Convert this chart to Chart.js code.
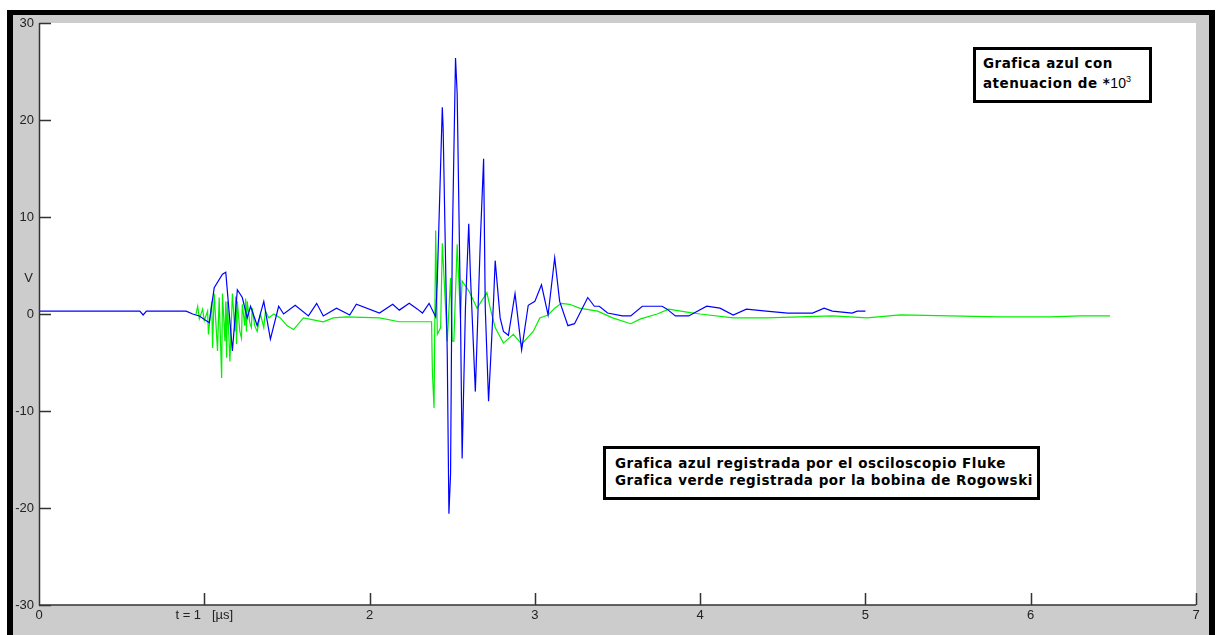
<!DOCTYPE html>
<html>
<head>
<meta charset="utf-8">
<script src="https://cdn.jsdelivr.net/npm/chart.js@4"></script>
<style>
  body { margin: 0; background: #fff; }
  #wrap { position: relative; width: 1218px; height: 635px; overflow: hidden; }
  #chart { position: absolute; left: 0; top: 0; }
  .note {
    position: absolute; box-sizing: border-box; background: #fff; white-space: nowrap;
    border: 3px solid #000; font: bold 13.5px "DejaVu Sans", Verdana, sans-serif; color: #000;
    letter-spacing: 0.5px;
  }
  .note sup { font-size: 9px; vertical-align: 6px; line-height: 0; }
</style>
</head>
<body>
<div id="wrap">
  <canvas id="chart" width="1218" height="635"></canvas>
  <div class="note" style="left:973px;top:47px;width:179px;height:56px;padding:3px 0 0 7px;line-height:20px;">
    Grafica azul con<br>atenuacion de *<span style="font:14px 'Liberation Sans', Arial, sans-serif;letter-spacing:0">10<sup>3</sup></span>
  </div>
  <div class="note" style="left:603px;top:446px;width:437px;height:54px;padding:6px 0 0 9px;line-height:17px;">
    Grafica azul registrada por el osciloscopio Fluke<br>Grafica verde registrada por la bobina de Rogowski
  </div>
</div>
<script>
// eje x en microsegundos, eje y en voltios
const xTickLabels = ['0', 't = 1   [µs]', '2', '3', '4', '5', '6', '7'];
const yTickLabels = ['-30', '-20', '-10', '0', '10', '20', '30'];

// osciloscopio Fluke (azul, atenuado *10^3)
const blueT = [0, 0.61, 0.63, 0.65, 0.89, 0.93, 0.97, 1.03, 1.06, 1.11, 1.13, 1.17, 1.20, 1.23, 1.26, 1.28,
  1.31, 1.32, 1.36, 1.40, 1.45, 1.48, 1.55, 1.63, 1.68, 1.72, 1.80, 1.88, 1.92, 2.06, 2.14, 2.18, 2.24,
  2.29, 2.32, 2.36, 2.40, 2.41, 2.44, 2.445, 2.47, 2.48, 2.49, 2.50, 2.52, 2.53, 2.55, 2.56, 2.58, 2.60,
  2.61, 2.64, 2.67, 2.69, 2.70, 2.72, 2.75, 2.76, 2.79, 2.81, 2.84, 2.88, 2.92, 2.96, 3.00, 3.04, 3.08,
  3.12, 3.15, 3.20, 3.24, 3.32, 3.36, 3.39, 3.44, 3.53, 3.58, 3.65, 3.77, 3.80, 3.85, 3.93, 4.04, 4.12,
  4.20, 4.28, 4.40, 4.53, 4.68, 4.75, 4.80, 4.92, 4.95, 5.00];
const blueV = [0.3, 0.3, -0.1, 0.3, 0.3, 0.0, -0.2, -0.9, 2.7, 4.1, 4.3, -3.8, 2.5, 1.7, -0.4, 0.8,
  -0.7, -1.2, 1.3, -2.6, 0.8, 0, 0.9, -0.2, 1.1, -0.2, 0.6, -0.1, 1.0, 0.1, 1.0, 0.4, 1.1,
  0.5, 0.1, 1.1, -0.3, 3.6, 21.3, 19.2, -4.1, -20.6, -16.5, 6.8, 26.4, 22.7, 0, -14.9, 0.6, 9.3,
  4.1, -8.0, 7.5, 16.0, 0.6, -9.0, 1.3, 5.5, -0.4, -1.8, -2.2, 2.1, -3.7, 0.9, 1.3, 3.0, -0.1,
  5.8, 1.3, -1.2, -1.0, 1.7, 0.8, 0.8, 0.1, -0.2, -0.2, 0.8, 0.8, 0.5, -0.2, -0.2, 0.8, 0.6,
  -0.1, 0.5, 0.3, 0.1, 0.1, 0.6, 0.3, 0.1, 0.3, 0.3];

// bobina de Rogowski (verde)
const greenT = [0.95, 0.96, 0.97, 0.99, 1.00, 1.02, 1.025, 1.045, 1.05, 1.06, 1.08, 1.09, 1.105, 1.11,
  1.125, 1.13, 1.135, 1.14, 1.155, 1.17, 1.185, 1.19, 1.195, 1.20, 1.215, 1.225, 1.23, 1.245, 1.25,
  1.255, 1.26, 1.275, 1.285, 1.29, 1.305, 1.32, 1.34, 1.36, 1.37, 1.39, 1.42, 1.46, 1.50, 1.54, 1.60,
  1.72, 1.78, 1.86, 2.06, 2.18, 2.375, 2.38, 2.39, 2.40, 2.41, 2.43, 2.44, 2.47, 2.49, 2.50, 2.51,
  2.53, 2.55, 2.56, 2.60, 2.62, 2.65, 2.71, 2.73, 2.76, 2.81, 2.87, 2.92, 2.99, 3.03, 3.08, 3.12,
  3.16, 3.21, 3.27, 3.38, 3.47, 3.58, 3.64, 3.74, 3.81, 3.92, 4.00, 4.20, 4.40, 4.60, 4.80, 5.01,
  5.21, 5.51, 5.81, 6.12, 6.30, 6.48];
const greenV = [0, 0.8, -0.5, 0.5, -0.7, 0.3, -2.1, 1.3, -3.5, 2.1, -3.8, 1.7, -6.6, 2.1,
  -2.8, 1.3, -4.5, 1.3, -4.9, 2.1, -1.8, 1.8, -3.1, 1.3, -1.8, -2.5, 1.0, -1.2, 1.6,
  -1.8, 1.3, -0.9, -1.4, 0.6, -1.2, -1.8, 0, -1.4, 0.3, -0.4, 0, -0.4, -1.2, -1.6, -0.4,
  -0.8, -0.4, -0.3, -0.4, -0.8, -0.8, -5.9, -9.7, 8.6, -2.1, -1.4, 7.3, -2.8, 3.7, -2.8, -2.8,
  7.2, -0.4, 3.4, 2.4, 1.7, 0.6, 2.2, 0.6, -1.4, -3.0, -2.1, -3.1, -1.8, -0.4, -0.1, 0.6,
  1.1, 1.0, 0.6, 0.3, -0.4, -1.0, -0.5, 0, 0.5, 0.2, 0, -0.4, -0.4, -0.3, -0.2, -0.4,
  -0.1, -0.2, -0.3, -0.3, -0.2, -0.2];

const toPoints = (ts, vs) => ts.map((t, i) => ({ x: t, y: vs[i] }));

// marco gris/negro y zona blanca del grafico
const framePlugin = {
  id: 'frame',
  beforeDraw(chart) {
    const ctx = chart.ctx, a = chart.chartArea;
    ctx.save();
    ctx.fillStyle = '#fff';
    ctx.fillRect(0, 0, chart.width, chart.height);
    ctx.fillStyle = '#000';
    ctx.fillRect(7, 10, 1208, 640);
    ctx.fillStyle = '#cccccc';
    ctx.fillRect(13, 15, 1196, 640);
    ctx.fillStyle = '#fff';
    ctx.fillRect(a.left, a.top, a.right - a.left, a.bottom - a.top);
    ctx.restore();
  },
  afterDraw(chart) {
    const ctx = chart.ctx, a = chart.chartArea;
    const xs = chart.scales.x, ys = chart.scales.y;
    ctx.save();
    ctx.strokeStyle = '#333';
    ctx.lineWidth = 1.5;
    ctx.beginPath();
    ctx.moveTo(a.left + 0.5, a.top);
    ctx.lineTo(a.left + 0.5, a.bottom);
    ctx.lineTo(a.right, a.bottom);
    // ticks hacia dentro
    xs.ticks.forEach(t => {
      const px = Math.round(xs.getPixelForValue(t.value)) + 0.5;
      ctx.moveTo(px, a.bottom);
      ctx.lineTo(px, a.bottom - 12);
    });
    ys.ticks.forEach(t => {
      const py = Math.round(ys.getPixelForValue(t.value)) + 0.5;
      ctx.moveTo(a.left, py);
      ctx.lineTo(a.left + 12, py);
    });
    ctx.stroke();
    ctx.fillStyle = '#222';
    ctx.font = '13px "Liberation Sans", Arial, sans-serif';
    ctx.textAlign = 'right';
    ctx.textBaseline = 'middle';
    ctx.fillText('V', a.left - 6, ys.getPixelForValue(3.7));
    ctx.restore();
  }
};

const tickFont = { family: '"Liberation Sans", Arial, sans-serif', size: 13 };

new Chart(document.getElementById('chart'), {
  type: 'scatter',
  data: {
    datasets: [{
      label: 'Fluke',
      data: toPoints(blueT, blueV),
      showLine: true,
      borderColor: '#0000ff',
      borderWidth: 1.2,
      pointRadius: 0,
      tension: 0
    }, {
      label: 'Rogowski',
      data: toPoints(greenT, greenV),
      showLine: true,
      borderColor: '#00f000',
      borderWidth: 1.2,
      pointRadius: 0,
      tension: 0
    }]
  },
  options: {
    responsive: false,
    animation: false,
    layout: { padding: { left: 0, top: 23, right: 22, bottom: 0 } },
    plugins: { legend: { display: false }, tooltip: { enabled: false } },
    scales: {
      x: {
        type: 'linear', min: 0, max: 7,
        grid: { display: false, drawTicks: false },
        border: { display: false },
        afterFit: s => { s.height = 30; },
        ticks: {
          stepSize: 1, autoSkip: false, maxRotation: 0, padding: 3,
          color: '#222', font: tickFont,
          callback: (v, i) => xTickLabels[i]
        }
      },
      y: {
        type: 'linear', min: -30, max: 30,
        grid: { display: false, drawTicks: false },
        border: { display: false },
        afterFit: s => { s.width = 39; },
        ticks: {
          stepSize: 10, padding: 5,
          color: '#222', font: tickFont,
          callback: (v, i) => yTickLabels[i]
        }
      }
    }
  },
  plugins: [framePlugin]
});
</script>
</body>
</html>
